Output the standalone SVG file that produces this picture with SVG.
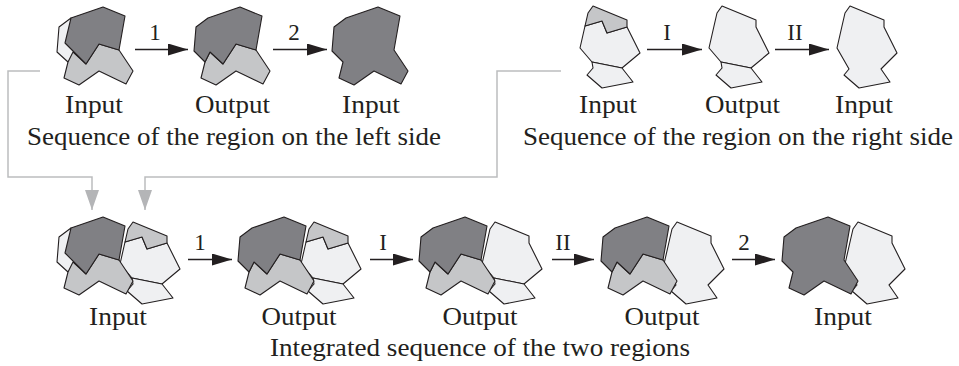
<svg xmlns="http://www.w3.org/2000/svg" xmlns:xlink="http://www.w3.org/1999/xlink" width="959" height="366" viewBox="0 0 959 366">
<style>
.dk{fill:#808084;stroke:#231f20;stroke-width:1.1;stroke-linejoin:round}
.md{fill:#c5c6c8;stroke:#231f20;stroke-width:1.1;stroke-linejoin:round}
.lt{fill:#eff0f2;stroke:#231f20;stroke-width:1.1;stroke-linejoin:round}
.lbl{font-family:"Liberation Serif","Times New Roman",serif;font-size:26px;fill:#231f20;text-anchor:middle}
.num{font-family:"Liberation Serif","Times New Roman",serif;font-size:23px;fill:#231f20;text-anchor:middle}
.arr{stroke:#231f20;stroke-width:1.4;fill:none}
.gl{stroke:#bcbdbf;stroke-width:1.5;fill:none}
</style>
<defs>
<marker id="ah" viewBox="0 0 20 12" refX="20" refY="6" markerWidth="20" markerHeight="12" markerUnits="userSpaceOnUse" orient="auto"><path d="M0,0 L20,6 L0,12 Z" fill="#231f20"/></marker>
<marker id="gh" viewBox="0 0 14 20" refX="7" refY="20" markerWidth="14" markerHeight="20" markerUnits="userSpaceOnUse" orient="0"><path d="M0,0 L14,0 L7,20 Z" fill="#b4b5b7"/></marker>
<polygon id="L1" class="lt" points="71,18 59,27 57,52 68,62 78,55 75,25"/>
<polygon id="M" class="md" points="73,52 86,64 99,44 119,50 133,71 126,84 99,71 79,85 64,78 68,62"/>
<polygon id="D1" class="dk" points="71,18 103,7 125,16 119,50 99,44 86,64 65,43"/>
<polygon id="D2" class="dk" points="59,27 71,18 103,7 125,16 119,50 99,44 86,64 73,52 68,62 57,51"/>
<polygon id="D3" class="dk" points="59,27 71,18 103,7 125,16 119,50 133,71 126,84 99,71 79,85 64,78 68,62 57,51"/>
<polygon id="R1" class="lt" points="585,26 580,48 592,62 622,68 640,53 627,27 607,33 602,21"/>
<polygon id="R2" class="lt" points="593,6 627,20 627,27 640,53 622,68 592,62 580,48 585,26 588,13"/>
<polygon id="R3" class="lt" points="593,6 627,20 627,27 640,53 624,69 633,82 602,88 587,75 592,69 580,48 585,26 588,13"/>
<polygon id="B" class="lt" points="592,62 622,68 633,82 602,88 587,75 593,68"/>
<polygon id="G" class="md" points="593,6 627,20 627,27 607,33 602,21 585,26 588,13"/>
</defs>

<g id="connectors">
<polyline class="gl" points="40,71 8,71 8,177 92,177 92,210" marker-end="url(#gh)"/>
<polyline class="gl" points="561,71 497,71 497,177 145,177 145,210" marker-end="url(#gh)"/>
<line class="arr" x1="135" y1="49.5" x2="188" y2="49.5" marker-end="url(#ah)"/>
<line class="arr" x1="273" y1="49.5" x2="327" y2="49.5" marker-end="url(#ah)"/>
<line class="arr" x1="647" y1="49.5" x2="702" y2="49.5" marker-end="url(#ah)"/>
<line class="arr" x1="775" y1="49.5" x2="829" y2="49.5" marker-end="url(#ah)"/>
<line class="arr" x1="188" y1="259.5" x2="232" y2="259.5" marker-end="url(#ah)"/>
<line class="arr" x1="370" y1="259.5" x2="413" y2="259.5" marker-end="url(#ah)"/>
<line class="arr" x1="552" y1="259.5" x2="594" y2="259.5" marker-end="url(#ah)"/>
<line class="arr" x1="732" y1="259.5" x2="775" y2="259.5" marker-end="url(#ah)"/>
<text class="num" x="155" y="40">1</text>
<text class="num" x="294" y="40">2</text>
<text class="num" x="667" y="40">I</text>
<text class="num" x="795" y="40">II</text>
<text class="num" x="200" y="250">1</text>
<text class="num" x="383" y="250">I</text>
<text class="num" x="563" y="250">II</text>
<text class="num" x="744" y="250">2</text>
</g>

<g id="left-input">
<use xlink:href="#L1"/><use xlink:href="#M"/><use xlink:href="#D1"/>
<text class="lbl" x="94" y="113" textLength="58" lengthAdjust="spacingAndGlyphs">Input</text>
</g>
<g id="left-output">
<g transform="translate(137,0)"><use xlink:href="#M"/><use xlink:href="#D2"/></g>
<text class="lbl" x="232.5" y="113" textLength="75" lengthAdjust="spacingAndGlyphs">Output</text>
</g>
<g id="left-final">
<g transform="translate(275,0)"><use xlink:href="#D3"/></g>
<text class="lbl" x="371" y="113" textLength="58" lengthAdjust="spacingAndGlyphs">Input</text>
</g>
<g id="left-caption"><text class="lbl" x="234" y="145" textLength="414" lengthAdjust="spacingAndGlyphs">Sequence of the region on the left side</text></g>

<g id="right-input">
<use xlink:href="#R1"/><use xlink:href="#B"/><use xlink:href="#G"/>
<text class="lbl" x="608" y="113" textLength="58" lengthAdjust="spacingAndGlyphs">Input</text>
</g>
<g id="right-output">
<g transform="translate(129,0)"><use xlink:href="#R2"/><use xlink:href="#B"/></g>
<text class="lbl" x="742.5" y="113" textLength="75" lengthAdjust="spacingAndGlyphs">Output</text>
</g>
<g id="right-final">
<g transform="translate(257,0)"><use xlink:href="#R3"/></g>
<text class="lbl" x="864" y="113" textLength="58" lengthAdjust="spacingAndGlyphs">Input</text>
</g>
<g id="right-caption"><text class="lbl" x="738" y="145" textLength="430" lengthAdjust="spacingAndGlyphs">Sequence of the region on the right side</text></g>

<g id="int-input">
<g transform="translate(-460,216)"><use xlink:href="#R1"/><use xlink:href="#B"/><use xlink:href="#G"/></g>
<g transform="translate(0,210)"><use xlink:href="#L1"/><use xlink:href="#M"/><use xlink:href="#D1"/></g>
<text class="lbl" x="118" y="325" textLength="58" lengthAdjust="spacingAndGlyphs">Input</text>
</g>
<g id="int-output-1">
<g transform="translate(-279,216)"><use xlink:href="#R1"/><use xlink:href="#B"/><use xlink:href="#G"/></g>
<g transform="translate(181,210)"><use xlink:href="#M"/><use xlink:href="#D2"/></g>
<text class="lbl" x="299" y="325" textLength="75" lengthAdjust="spacingAndGlyphs">Output</text>
</g>
<g id="int-output-2">
<g transform="translate(-98,216)"><use xlink:href="#R2"/><use xlink:href="#B"/></g>
<g transform="translate(362,210)"><use xlink:href="#M"/><use xlink:href="#D2"/></g>
<text class="lbl" x="480" y="325" textLength="75" lengthAdjust="spacingAndGlyphs">Output</text>
</g>
<g id="int-output-3">
<g transform="translate(84,216)"><use xlink:href="#R3"/></g>
<g transform="translate(544,210)"><use xlink:href="#M"/><use xlink:href="#D2"/></g>
<text class="lbl" x="662" y="325" textLength="75" lengthAdjust="spacingAndGlyphs">Output</text>
</g>
<g id="int-final">
<g transform="translate(265,216)"><use xlink:href="#R3"/></g>
<g transform="translate(725,210)"><use xlink:href="#D3"/></g>
<text class="lbl" x="843" y="325" textLength="58" lengthAdjust="spacingAndGlyphs">Input</text>
</g>
<g id="int-caption"><text class="lbl" x="480" y="356" textLength="420" lengthAdjust="spacingAndGlyphs">Integrated sequence of the two regions</text></g>
</svg>
